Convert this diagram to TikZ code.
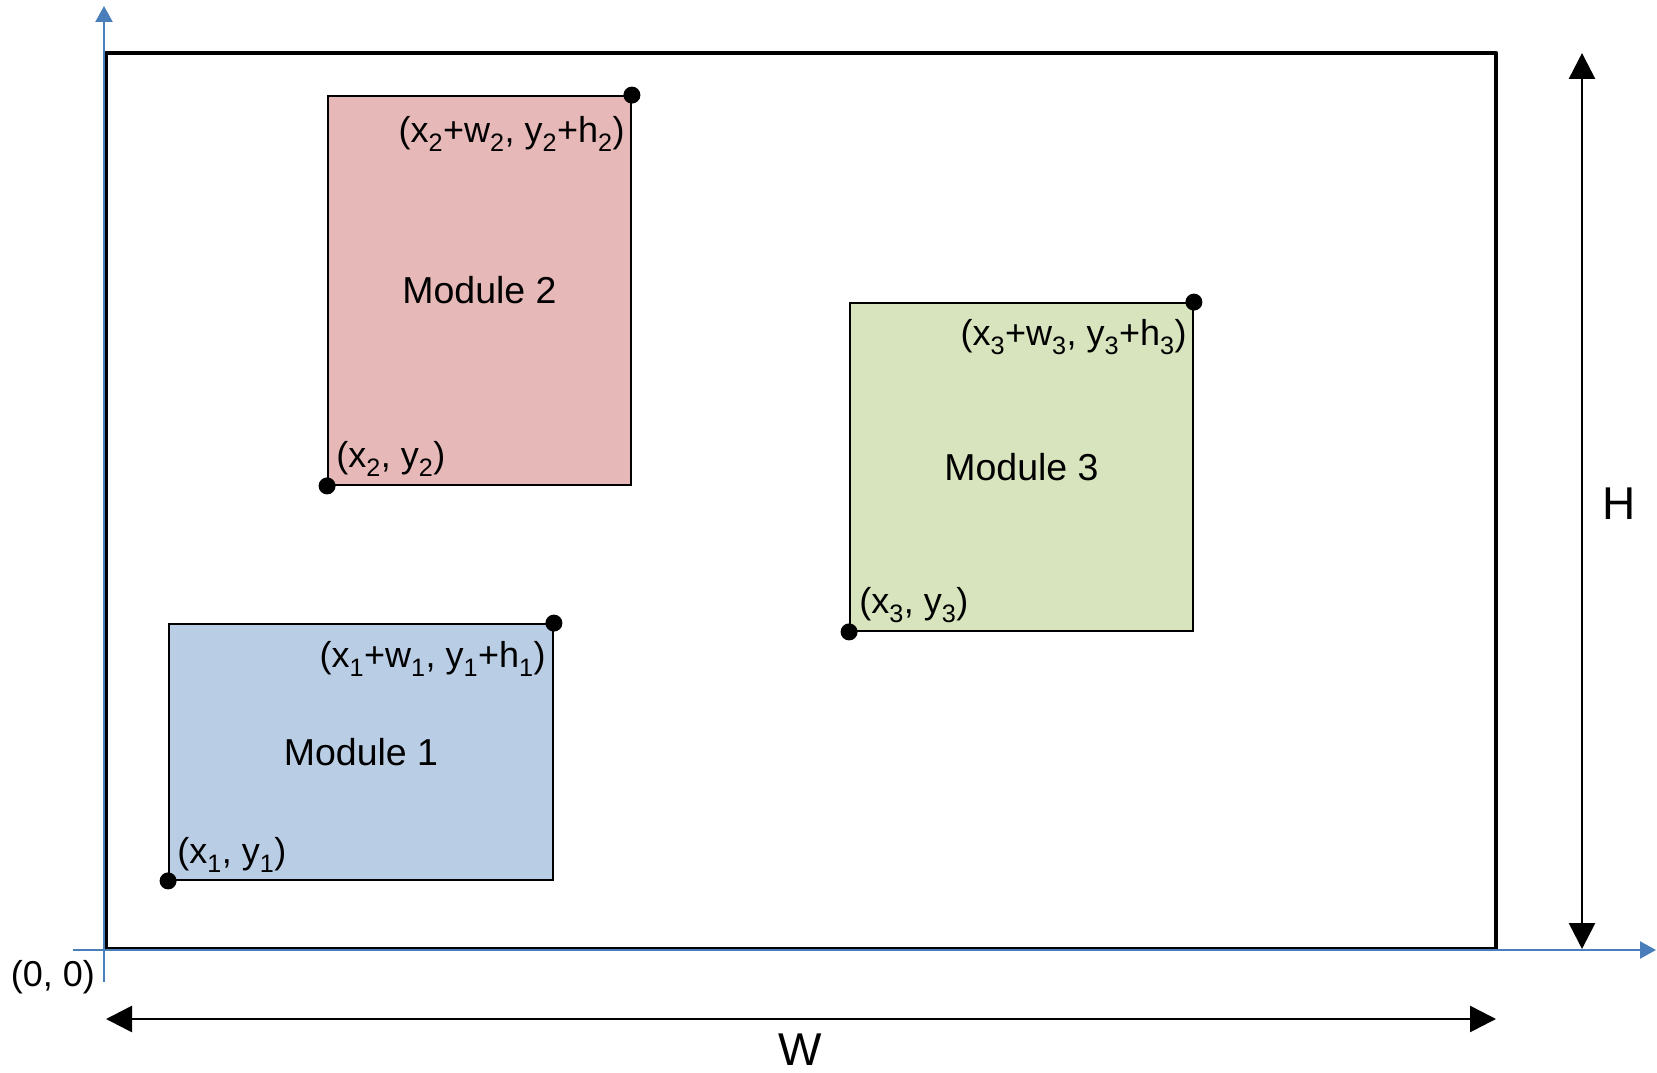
\documentclass[tikz,border=0pt]{standalone}
\usepackage{fontspec}
\setmainfont{Liberation Sans}
\usetikzlibrary{arrows.meta}

\definecolor{axisblue}{HTML}{4A7EBB}
\definecolor{modblue}{HTML}{B9CDE5}
\definecolor{modred}{HTML}{E6B9B8}
\definecolor{modgreen}{HTML}{D7E4BD}

\tikzset{
  module/.style={draw=black, line width=1.8pt, inner sep=0pt,
    font=\fontsize{37.5}{42}\selectfont},
  corner/.style={circle, fill=black, inner sep=0pt, minimum size=17pt},
  cornerlabel/.style={inner sep=0pt, font=\fontsize{36}{40}\selectfont},
  axis/.style={draw=axisblue, line width=2.4pt,
    -{Triangle[length=16pt, width=17pt]}},
  dimension/.style={draw=black, line width=2.6pt,
    {Triangle[length=26pt, width=26pt]}-{Triangle[length=26pt, width=26pt]}},
  bigtext/.style={inner sep=0pt, font=\fontsize{46}{50}\selectfont},
}

\newcommand{\subs}[1]{\textsubscript{#1}}

\begin{document}
\begin{tikzpicture}[x=1pt, y=-1pt]
  \useasboundingbox (0,0) rectangle (1657,1073);

  % outer layout area
  \coordinate (fNW) at (106,53);
  \coordinate (fSE) at (1496,949);
  \draw[line width=4.6pt, line join=round] (fNW) rectangle (fSE);

  % coordinate axes
  \coordinate (yfoot) at (104,982);
  \coordinate (ytip) at (104,6);
  \coordinate (xfoot) at (73,950);
  \coordinate (xtip) at (1656,950);
  \draw[axis] (yfoot) -- (ytip);
  \draw[axis] (xfoot) -- (xtip);
  \node[cornerlabel] (origin) at (53,977) {(0, 0)};

  % modules
  \node[module, fill=modblue, minimum width=384pt, minimum height=256pt]
    (m1) at (361,752) {Module 1};
  \node[module, fill=modred, minimum width=303pt, minimum height=389pt]
    (m2) at (479.5,290.5) {Module 2};
  \node[module, fill=modgreen, minimum width=343pt, minimum height=328pt]
    (m3) at (1021.5,467) {Module 3};

  % corner points
  \node[corner] (m1bl) at (m1.south west) {};
  \node[corner] (m1tr) at (m1.north east) {};
  \node[corner] (m2bl) at (m2.south west) {};
  \node[corner] (m2tr) at (m2.north east) {};
  \node[corner] (m3bl) at (m3.south west) {};
  \node[corner] (m3tr) at (m3.north east) {};

  % corner labels
  \node[cornerlabel, anchor=west] (l1bl) at ([shift={(9,-26)}]m1.south west)
    {(x\subs{1}, y\subs{1})};
  \node[cornerlabel, anchor=east] (l1tr) at ([shift={(-8,36)}]m1.north east)
    {(x\subs{1}+w\subs{1}, y\subs{1}+h\subs{1})};
  \node[cornerlabel, anchor=west] (l2bl) at ([shift={(9,-27)}]m2.south west)
    {(x\subs{2}, y\subs{2})};
  \node[cornerlabel, anchor=east] (l2tr) at ([shift={(-7,39)}]m2.north east)
    {(x\subs{2}+w\subs{2}, y\subs{2}+h\subs{2})};
  \node[cornerlabel, anchor=west] (l3bl) at ([shift={(10,-27)}]m3.south west)
    {(x\subs{3}, y\subs{3})};
  \node[cornerlabel, anchor=east] (l3tr) at ([shift={(-7,35)}]m3.north east)
    {(x\subs{3}+w\subs{3}, y\subs{3}+h\subs{3})};

  % dimensions
  \coordinate (htop) at (1582,53);
  \coordinate (hbot) at (1582,949);
  \draw[dimension] (htop) -- (hbot);
  \node[bigtext] (H) at (1619,504) {H};

  \coordinate (wleft) at (106,1019);
  \coordinate (wright) at (1496,1019);
  \draw[dimension] (wleft) -- (wright);
  \node[bigtext] (W) at (800,1050) {W};
\end{tikzpicture}
\end{document}
